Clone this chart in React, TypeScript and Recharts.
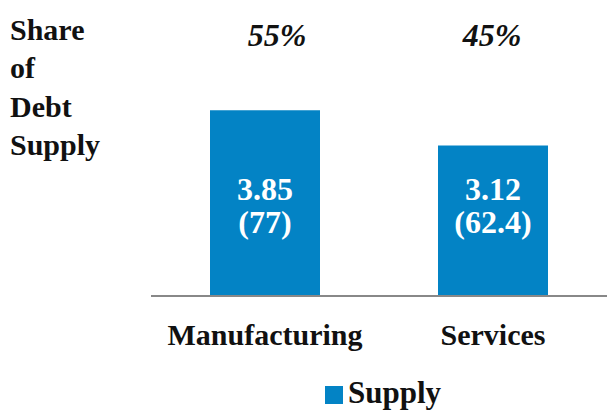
import React from "react";
import { BarChart, Bar, XAxis, YAxis, LabelList, Legend } from "recharts";

const sectors = ["Manufacturing", "Services"];
const supply = [3.85, 3.12];
const amounts = ["77", "62.4"];
const shares = ["55%", "45%"];

const data = sectors.map((name, i) => ({
  name,
  supply: supply[i],
  amount: amounts[i],
  share: shares[i],
}));

const BLUE = "#0383c5";
const FONT = "'Liberation Serif', 'Times New Roman', serif";
// share captions in the source sit a little off the bar centres
const SHARE_DX = [12, -1];

function SectorTick(props: any) {
  const { x, payload } = props;
  return (
    <text x={x} y={345} textAnchor="middle" fontFamily={FONT} fontWeight="bold" fontSize={30} fill="#111">
      {payload.value}
    </text>
  );
}

function ValueLabel(props: any) {
  const { x, y, width, height, index } = props;
  const cx = x + width / 2;
  const bottom = y + height;
  return (
    <g fontFamily={FONT} fontWeight="bold" fontSize={32} fill="#fff" textAnchor="middle">
      <text x={cx} y={bottom - 96}>{supply[index].toFixed(2)}</text>
      <text x={cx} y={bottom - 63}>({amounts[index]})</text>
    </g>
  );
}

function ShareLabel(props: any) {
  const { x, width, index } = props;
  return (
    <text
      x={x + width / 2 + SHARE_DX[index]}
      y={46}
      textAnchor="middle"
      fontFamily={FONT}
      fontWeight="bold"
      fontStyle="italic"
      fontSize={32}
      fill="#111"
    >
      {shares[index]}
    </text>
  );
}

function SupplyLegend() {
  return (
    <div style={{ display: "flex", alignItems: "center", fontFamily: FONT, fontWeight: "bold", fontSize: 31, color: "#111" }}>
      <span style={{ display: "inline-block", width: 18, height: 18, background: BLUE, marginRight: 5, marginTop: 3 }} />
      <span>Supply</span>
    </div>
  );
}

export default function App() {
  return (
    <div style={{ position: "absolute", left: 0, top: 0, width: 607, height: 413, background: "#fff" }}>
      <div
        style={{
          position: "absolute",
          left: 10,
          top: 11,
          fontFamily: FONT,
          fontWeight: "bold",
          fontSize: 30,
          lineHeight: "38.3px",
          color: "#111",
          zIndex: 1,
        }}
      >
        Share
        <br />
        of
        <br />
        Debt
        <br />
        Supply
      </div>
      <BarChart width={607} height={413} data={data} margin={{ top: 79, right: 0, left: 151, bottom: 0 }}>
        <YAxis hide domain={[0, 4.5]} />
        <XAxis
          dataKey="name"
          height={117}
          axisLine={{ stroke: "#888", strokeWidth: 2 }}
          tickLine={false}
          tick={<SectorTick />}
          interval={0}
        />
        <Legend
          layout="horizontal"
          verticalAlign="middle"
          align="center"
          content={<SupplyLegend />}
          wrapperStyle={{ top: 375, left: 325, width: 150, height: 36 }}
        />
        <Bar dataKey="supply" name="Supply" fill={BLUE} barSize={110} isAnimationActive={false}>
          <LabelList dataKey="supply" content={<ValueLabel />} />
          <LabelList dataKey="share" content={<ShareLabel />} />
        </Bar>
      </BarChart>
    </div>
  );
}
